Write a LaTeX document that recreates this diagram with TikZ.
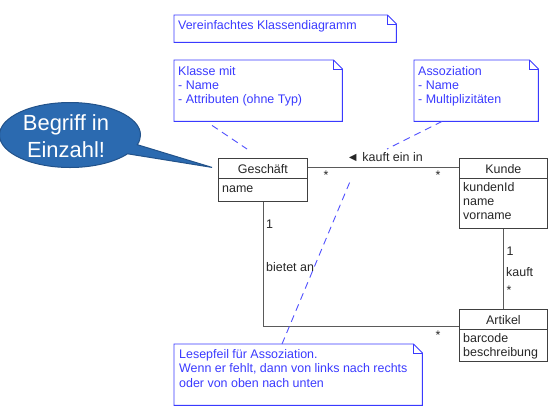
\documentclass[tikz,border=0pt]{standalone}
\usepackage{fontspec}
\setmainfont{Liberation Sans}
\usetikzlibrary{positioning,calc,shapes.callouts}

\definecolor{notizblau}{RGB}{58,58,255}
\definecolor{linkblau}{RGB}{80,80,255}
\definecolor{blasenblau}{RGB}{43,106,176}
\definecolor{blasenrand}{RGB}{34,82,138}
\definecolor{kastengrau}{RGB}{64,64,64}
\definecolor{liniengrau}{RGB}{90,90,90}

\tikzset{
    klasse/.style={draw=kastengrau,line width=0.8bp,anchor=north west,inner sep=0},
    trenner/.style={draw=kastengrau,line width=0.8bp},
    kopf/.style={anchor=base,inner sep=0,text=black!85,font=\fontsize{12.5}{14}\selectfont},
    attribute/.style={anchor=north west,align=left,inner sep=0,text=black!85,
        font=\fontsize{12.5}{14}\selectfont,execute at begin node=\strut},
    notiz/.style={anchor=north west,inner sep=0},
    notiztext/.style={anchor=north west,align=left,inner sep=0,text=notizblau,
        font=\fontsize{12.5}{14}\selectfont,execute at begin node=\strut},
    assoz/.style={draw=liniengrau,line width=0.8bp},
    rolle/.style={anchor=base west,inner sep=0,text=black!85,font=\fontsize{12.5}{14}\selectfont},
    notizlink/.style={draw=linkblau,line width=0.9bp,dash pattern=on 7bp off 5bp}
}

% Rahmen einer Notiz mit Eselsohr
\newcommand{\notizrahmen}[1]{%
    \draw[notizblau,line width=0.9bp] (#1.north west) -- ($(#1.north east)+(-\knick,0)$)
        -- ($(#1.north east)+(0,\knick)$) -- (#1.south east) -- (#1.south west) -- cycle;
    \draw[notizblau,line width=0.7bp] ($(#1.north east)+(-\knick,0)$) |- ($(#1.north east)+(0,\knick)$);
}

\begin{document}
\begin{tikzpicture}[x=1bp,y=-1bp]
    \pgfmathsetmacro{\knick}{9}
    \pgfmathsetmacro{\kopfhoehe}{20}
    \useasboundingbox (0,0) rectangle (558,413);

    % Notizen
    \node[notiz,minimum width=222bp,minimum height=27bp] (titel) at (174,15) {};
    \notizrahmen{titel}
    \node[notiztext] (titeltext) at ($(titel.north west)+(4,5)$) {Vereinfachtes Klassendiagramm};

    \node[notiz,minimum width=168bp,minimum height=61bp] (klassennotiz) at (174,60) {};
    \notizrahmen{klassennotiz}
    \node[notiztext] (klassentext) at ($(klassennotiz.north west)+(4,6)$) {Klasse mit\\- Name\\- Attributen (ohne Typ)};

    \node[notiz,minimum width=124bp,minimum height=61bp] (assoznotiz) at (414,60) {};
    \notizrahmen{assoznotiz}
    \node[notiztext] (assoztext) at ($(assoznotiz.north west)+(4,6)$) {Assoziation\\- Name\\- Multiplizitäten};

    \node[notiz,minimum width=248bp,minimum height=61bp] (lesenotiz) at (174,344) {};
    \notizrahmen{lesenotiz}
    \node[notiztext,font=\fontsize{12.5}{14.5}\selectfont] (lesetext) at ($(lesenotiz.north west)+(5,5)$)
        {Lesepfeil für Assoziation.\\Wenn er fehlt, dann von links nach rechts\\oder von oben nach unten};

    % Klassen
    \node[klasse,minimum width=89bp,minimum height=43bp] (geschaeft) at (218,158) {};
    \draw[trenner] ($(geschaeft.north west)+(0,\kopfhoehe)$) -- ($(geschaeft.north east)+(0,\kopfhoehe)$);
    \node[kopf] (geschaeftkopf) at ($(geschaeft.north)+(0,15.3)$) {Geschäft};
    \node[attribute] (geschaeftattr) at ($(geschaeft.north west)+(4,24.2)$) {name};

    \node[klasse,minimum width=88bp,minimum height=70bp] (kunde) at (459,158) {};
    \draw[trenner] ($(kunde.north west)+(0,\kopfhoehe)$) -- ($(kunde.north east)+(0,\kopfhoehe)$);
    \node[kopf] (kundekopf) at ($(kunde.north)+(0,15.3)$) {Kunde};
    \node[attribute] (kundeattr) at ($(kunde.north west)+(4,24.2)$) {kundenId\\name\\vorname};

    \node[klasse,minimum width=88bp,minimum height=52bp] (artikel) at (459,309) {};
    \draw[trenner] ($(artikel.north west)+(0,\kopfhoehe)$) -- ($(artikel.north east)+(0,\kopfhoehe)$);
    \node[kopf] (artikelkopf) at ($(artikel.north)+(0,15.3)$) {Artikel};
    \node[attribute] (artikelattr) at ($(artikel.north west)+(4,24.2)$) {barcode\\beschreibung};

    % Assoziationen
    \draw[assoz] ($(geschaeft.north east)+(0,9)$) -- ($(kunde.north west)+(0,9)$);
    \node[rolle] (kauftein) at (346.5,161.7) {◄ kauft ein in};
    \node[rolle,anchor=base] (stern1) at (326,179) {*};
    \node[rolle,anchor=base] (stern2) at (438,179) {*};

    \draw[assoz] (geschaeft.south) |- ($(artikel.north west)+(0,17)$);
    \node[rolle] (eins1) at (266,228) {1};
    \node[rolle] (bietet) at (266,271.5) {bietet an};
    \node[rolle,anchor=base] (stern3) at (438,339) {*};

    \draw[assoz] (kunde.south) -- (artikel.north);
    \node[rolle] (eins2) at (506.5,255) {1};
    \node[rolle] (kauft) at (506,276) {kauft};
    \node[rolle,anchor=base] (stern4) at (509,294) {*};

    % Verbindungen der Notizen
    \coordinate (klassenziel) at (247,149);
    \coordinate (assozziel) at (387,149);
    \coordinate (lesespitze) at (351.5,178);
    \draw[notizlink] ($(klassennotiz.south west)+(38,4)$) -- (klassenziel);
    \draw[notizlink] ($(assoznotiz.south west)+(28,0)$) -- (assozziel);
    \draw[notizlink] ($(lesenotiz.north west)+(108,0)$) -- (lesespitze);

    % Sprechblase
    \coordinate (blasenspitze) at ($(geschaeft.west)+(-6,-12.5)$);
    \node[ellipse callout,draw=blasenrand,fill=blasenblau,line width=1bp,minimum width=141bp,
        minimum height=65bp,inner sep=0,callout pointer arc=18,
        callout absolute pointer={(blasenspitze)}] (blase) at (70,135) {};
    \node[align=center,inner sep=0,text=white,font=\fontsize{22}{26.5}\selectfont] (blasentext)
        at (66,136) {Begriff in\\Einzahl!};
\end{tikzpicture}
\end{document}
